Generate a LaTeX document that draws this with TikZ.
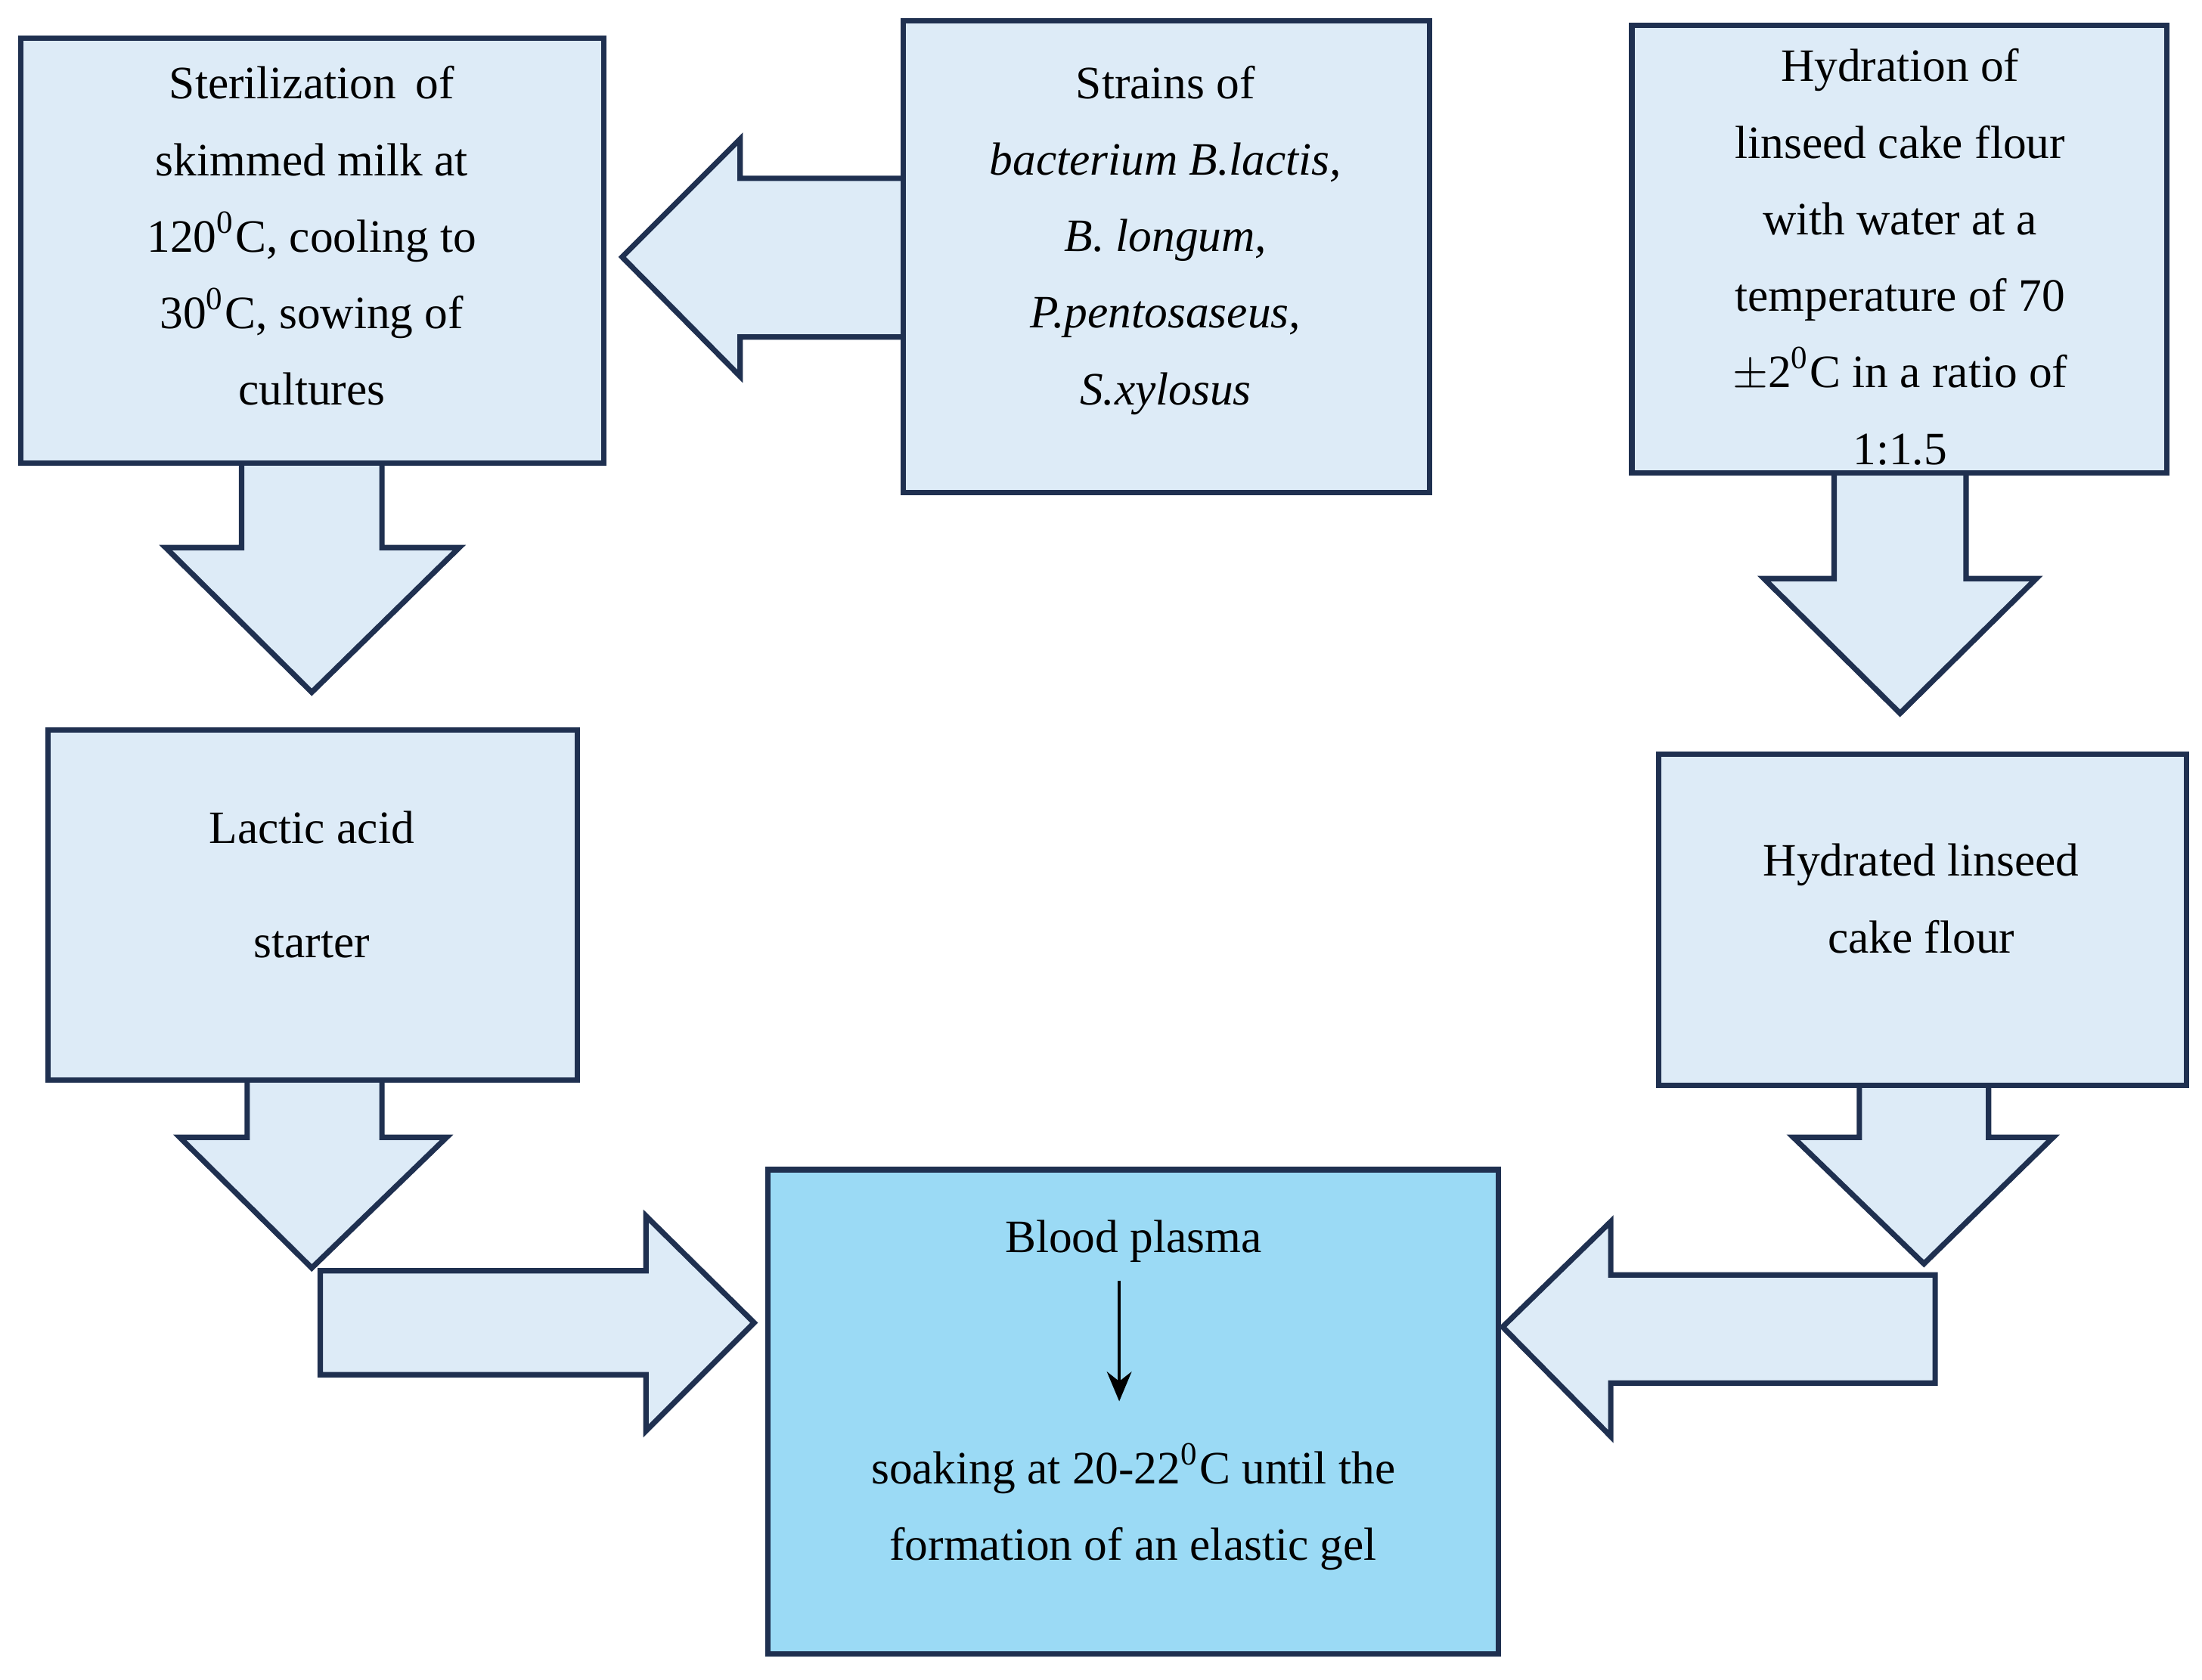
\documentclass[tikz,border=0pt]{standalone}
\usepackage{fontspec}
\setmainfont{Liberation Serif}
\usetikzlibrary{arrows.meta}
\definecolor{bfill}{HTML}{DDEBF7}
\definecolor{bdraw}{HTML}{1F3050}
\definecolor{cfill}{HTML}{9BDAF5}
\begin{document}
\begin{tikzpicture}[x=0.01cm,y=-0.01cm,
  box/.style={draw=bdraw,fill=bfill,line width=1.1pt},
  arr/.style={draw=bdraw,fill=bfill,line width=1.1pt,line join=miter},
  txt/.style={align=center,font=\fontsize{9.4}{14}\selectfont,inner sep=0pt}]
\useasboundingbox (0,0) rectangle (1568,1196);
% arrows
\draw[arr] (643,127)--(527,127)--(527,99)--(443,183)--(527,268)--(527,240)--(643,240);
\draw[arr] (172,330)--(172,390)--(118,390)--(222,493)--(327,390)--(272,390)--(272,330);
\draw[arr] (1306,337)--(1306,412)--(1256,412)--(1353,508)--(1450,412)--(1400,412)--(1400,337);
\draw[arr] (176,769)--(176,810)--(128,810)--(222,903)--(318,810)--(272,810)--(272,769);
\draw[arr] (228,905)--(460,905)--(460,866)--(537,942)--(460,1019)--(460,979)--(228,979)--cycle;
\draw[arr] (1324,773)--(1324,810)--(1277,810)--(1370,900)--(1462,810)--(1416,810)--(1416,773);
\draw[arr] (1378,908)--(1147,908)--(1147,870)--(1070,945)--(1147,1023)--(1147,985)--(1378,985)--cycle;
% boxes
\draw[box] (15,27) rectangle (430,330);
\draw[box] (643,15) rectangle (1018,351);
\draw[box] (1162,18) rectangle (1543,337);
\draw[box] (34,520) rectangle (411,769);
\draw[box] (1181,537) rectangle (1557,773);
\draw[box,fill=cfill] (547,833) rectangle (1067,1178);
% texts
\node[txt] (t1) at (222,168) {Sterilization\, of\\[1.5pt]skimmed milk at\\[1.5pt]120\textsuperscript{0}C, cooling to\\[1.5pt]30\textsuperscript{0}C, sowing of\\[1.5pt]cultures};
\node[txt] (t2) at (830,171) {Strains of\\[1.5pt]\textit{bacterium B.lactis,}\\[1.5pt]\textit{B. longum,}\\[1.5pt]\textit{P.pentosaseus,}\\[1.5pt]\textit{S.xylosus}};
\node[txt] (t3) at (1353,183) {Hydration of\\[1.5pt]linseed cake flour\\[1.5pt]with water at a\\[1.5pt]temperature of 70\\[1.5pt]$\pm$2\textsuperscript{0}C in a ratio of\\[1.5pt]1:1.5};
\node[txt] (t4) at (222,630) {Lactic acid\\[9pt]starter};
\node[txt] (t5) at (1368,640) {Hydrated linseed\\[1.5pt]cake flour};
\node[txt] (t6) at (807,884) {Blood plasma};
\node[txt] (t7) at (807,1073) {soaking at 20-22\textsuperscript{0}C until the\\[1.5pt]formation of an elastic gel};
\coordinate (a1) at (797,912);
\coordinate (a2) at (797,998);
\draw[-{Stealth[length=6pt,width=5pt]},line width=0.6pt] (a1)--(a2);
\end{tikzpicture}
\end{document}
